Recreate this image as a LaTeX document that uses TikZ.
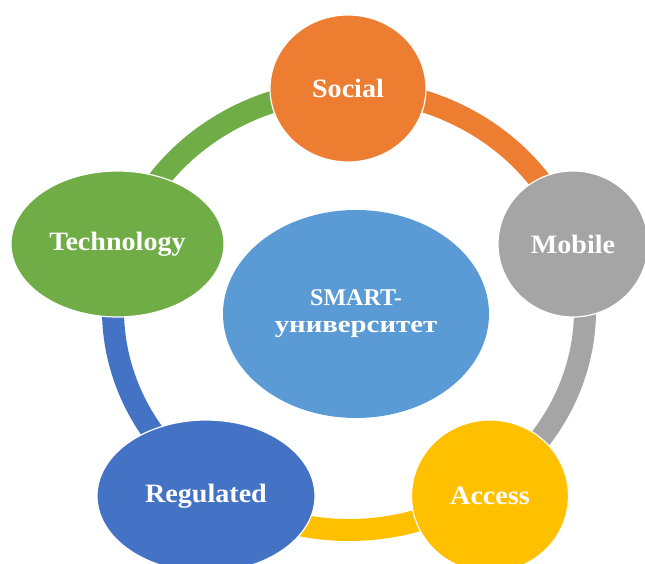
\documentclass[tikz,border=0pt]{standalone}
\usepackage{fontspec}
\setmainfont{Liberation Serif}[FakeStretch=1.06]
\newfontfamily\plainserif{Liberation Serif}
\newfontfamily\wideserif{Liberation Serif}[FakeStretch=1.2]
\usetikzlibrary{shapes.geometric}
\definecolor{cOrange}{HTML}{ED7D31}
\definecolor{cGray}{HTML}{A5A5A5}
\definecolor{cYellow}{HTML}{FFC000}
\definecolor{cBlue}{HTML}{4472C4}
\definecolor{cGreen}{HTML}{70AD47}
\definecolor{cLight}{HTML}{5B9BD5}
\tikzset{
  band/.style={line width=22pt},
  petal/.style={ellipse, draw=white, line width=1.2pt, inner sep=0pt, text=white,
    font=\bfseries\fontsize{26.5}{30}\selectfont},
  hubnode/.style={ellipse, inner sep=0pt, text=white, align=center,
    font=\bfseries\fontsize{24}{27}\selectfont},
}
\begin{document}
\begin{tikzpicture}[x=1pt,y=1pt]
\useasboundingbox (0,0) rectangle (645,564);
\clip (0,0) rectangle (645,564);
\coordinate (ring) at (349,254);
% ring segments
\draw[band, cOrange] (ring) ++(90:236 and 220) arc[start angle=90, end angle=18, x radius=236, y radius=220];
\draw[band, cGray] (ring) ++(18:236 and 220) arc[start angle=18, end angle=-54, x radius=236, y radius=220];
\draw[band, cYellow] (ring) ++(-54:236 and 220) arc[start angle=-54, end angle=-126, x radius=236, y radius=220];
\draw[band, cBlue] (ring) ++(234:236 and 220) arc[start angle=234, end angle=162, x radius=236, y radius=220];
\draw[band, cGreen] (ring) ++(162:236 and 220) arc[start angle=162, end angle=90, x radius=236, y radius=220];
% outer nodes
\node[petal, fill=cOrange, minimum width=156pt, minimum height=147pt] (soc) at (348,475.5) {Social};
\node[petal, fill=cGray, minimum width=150pt, minimum height=146pt] (mob) at (573,320) {Mobile};
\node[petal, fill=cYellow, minimum width=157pt, minimum height=152pt] (acc) at (490,68) {Access};
\node[petal, fill=cBlue, minimum width=218pt, minimum height=152pt] (reg) at (206,68) {Regulated};
\node[petal, fill=cGreen, minimum width=213pt, minimum height=146pt] (tech) at (117.5,320) {Technology};
% hub
\node[hubnode, fill=cLight, minimum width=266pt, minimum height=208pt] (hub) at (356,250)
  {{\plainserif SMART-}\\{\wideserif университет}};
\end{tikzpicture}
\end{document}
